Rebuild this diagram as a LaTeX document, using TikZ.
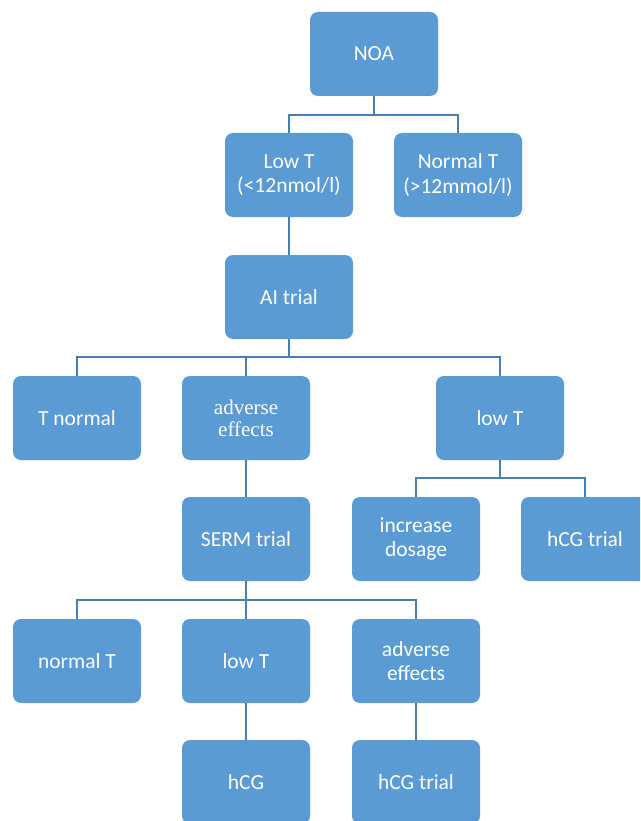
\documentclass[tikz,border=0pt]{standalone}
\usepackage{fontspec}
\setmainfont{Carlito}
\newfontfamily\serifbox{Liberation Serif}
\definecolor{boxfill}{HTML}{5B9BD5}
\definecolor{linecol}{HTML}{4A7EB0}
\begin{document}
\begin{tikzpicture}[x=1pt,y=-1pt,
  box/.style={rectangle, rounded corners=8pt, fill=boxfill, draw=none,
    minimum width=128pt, minimum height=84pt, inner sep=0pt, align=center,
    text=white, font=\fontsize{21.5}{24.5}\selectfont},
  conn/.style={draw=linecol, line width=2pt}]
\clip (0,0) rectangle (640,821);
\fill[white] (0,0) rectangle (640,821);
\node[box] (noa) at (374,54) {NOA};
\node[box] (lowt) at (289,175) {Low T\\(<12nmol/l)};
\node[box] (normt) at (458,175) {Normal T\\(>12mmol/l)};
\node[box] (ai) at (289,297) {AI trial};
\node[box] (tnorm) at (77,418) {T normal};
\node[box, font=\serifbox\fontsize{21}{22}\selectfont] (adv1) at (246,418) {adverse\\effects};
\node[box] (lowt2) at (500,418) {low T};
\node[box] (serm) at (246,539) {SERM trial};
\node[box] (incr) at (416,539) {increase\\dosage};
\node[box] (hcgt1) at (585,539) {hCG trial};
\node[box] (normt2) at (77,661) {normal T};
\node[box] (lowt3) at (246,661) {low T};
\node[box] (adv2) at (416,661) {adverse\\effects};
\node[box] (hcg) at (246,782) {hCG};
\node[box] (hcgt2) at (416,782) {hCG trial};
% connectors
\draw[conn] (noa.south) -- ++(0,19) -| (lowt.north);
\draw[conn] (noa.south) ++(0,19) -| (normt.north);
\draw[conn] (lowt.south) -- (ai.north);
\draw[conn] (ai.south) -- ++(0,18) -| (tnorm.north);
\draw[conn] (ai.south) ++(0,18) -| (adv1.north);
\draw[conn] (ai.south) ++(0,18) -| (lowt2.north);
\draw[conn] (lowt2.south) -- ++(0,18) -| (incr.north);
\draw[conn] (lowt2.south) ++(0,18) -| (hcgt1.north);
\draw[conn] (adv1.south) -- (serm.north);
\draw[conn] (serm.south) -- ++(0,19) -| (normt2.north);
\draw[conn] (serm.south) ++(0,19) -| (lowt3.north);
\draw[conn] (serm.south) ++(0,19) -| (adv2.north);
\draw[conn] (lowt3.south) -- (hcg.north);
\draw[conn] (adv2.south) -- (hcgt2.north);
\end{tikzpicture}
\end{document}
